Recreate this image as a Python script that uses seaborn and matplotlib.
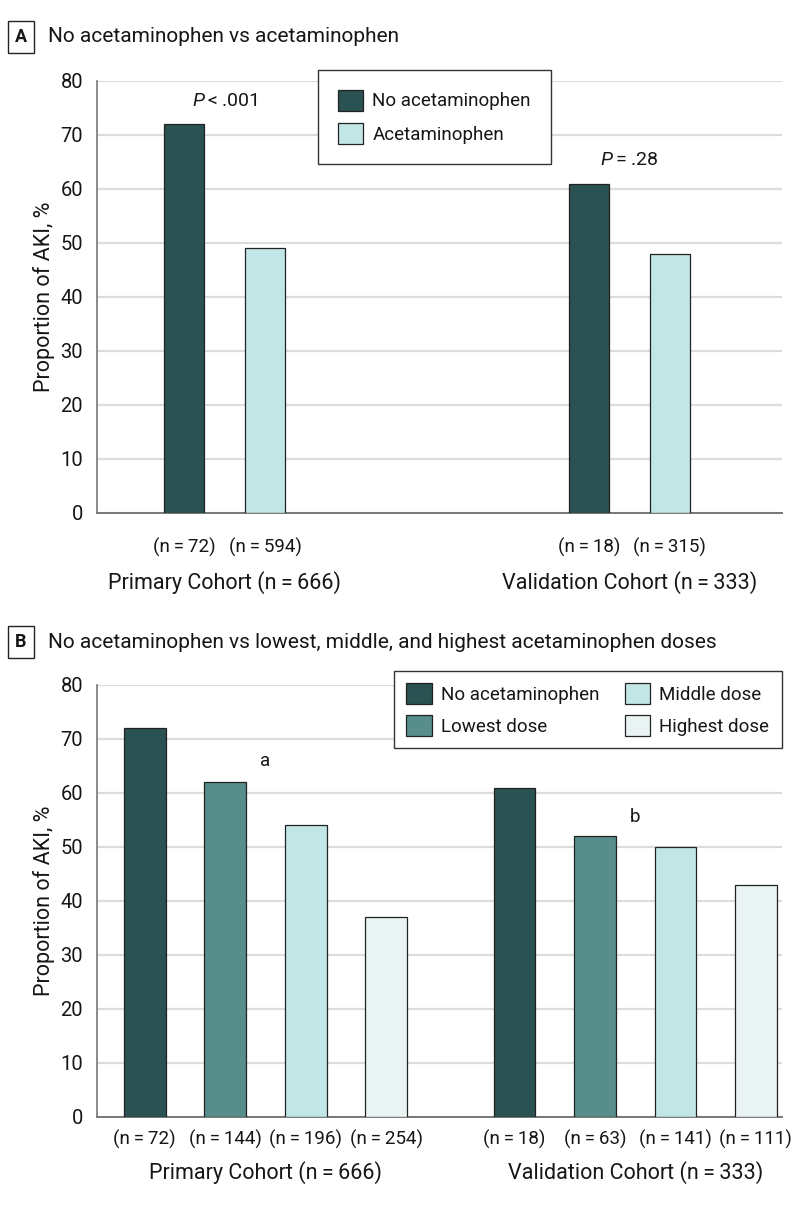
import matplotlib
matplotlib.use("Agg")
import matplotlib.pyplot as plt
from matplotlib.patches import Patch
import seaborn as sns
import pandas as pd

# ---- data ----
cohorts = ["Primary Cohort (n\u2009=\u2009666)", "Validation Cohort (n\u2009=\u2009333)"]

groups_a = ["No acetaminophen", "Acetaminophen"]
primary_a = [72, 49]
validation_a = [61, 48]
n_primary_a = ["72", "594"]
n_validation_a = ["18", "315"]
pvalues_a = ["$P$\u2009<\u2009.001", "$P$\u2009=\u2009.28"]
pvalue_heights_a = [76.3, 65.4]

groups_b = ["No acetaminophen", "Lowest dose", "Middle dose", "Highest dose"]
primary_b = [72, 62, 54, 37]
validation_b = [61, 52, 50, 43]
n_primary_b = ["72", "144", "196", "254"]
n_validation_b = ["18", "63", "141", "111"]
notes_b = ["a", "b"]
note_heights_b = [66, 55.6]

colors_a = ["#2a5253", "#c2e6e5"]
colors_b = ["#2a5253", "#578e8c", "#c2e6e5", "#e9f3f3"]

yticks = [0, 10, 20, 30, 40, 50, 60, 70, 80]

FONT = ["Roboto", "DejaVu Sans"]

sns.set_style("white")
plt.rcParams["font.family"] = FONT
plt.rcParams["mathtext.fontset"] = "custom"
plt.rcParams["mathtext.it"] = "Roboto:italic"
plt.rcParams["mathtext.rm"] = "Roboto"

TXT = "#161616"


def build_frame(groups, primary, validation):
    rows = []
    for g, v in zip(groups, primary):
        rows.append({"cohort": cohorts[0], "group": g, "value": v})
    for g, v in zip(groups, validation):
        rows.append({"cohort": cohorts[1], "group": g, "value": v})
    return pd.DataFrame(rows)


def draw_panel(ax, df, groups, colors, width, gap, n_labels, xlim,
               n_pad, cohort_offset):
    sns.barplot(data=df, x="cohort", y="value", hue="group", order=cohorts,
                hue_order=groups, palette=colors, width=width, gap=gap,
                saturation=1, edgecolor="#222222", linewidth=0.9,
                errorbar=None, legend=False, ax=ax, zorder=3)
    centers = sorted(p.get_x() + p.get_width() / 2 for p in ax.patches)
    ax.set_xlim(*xlim)
    ax.set_ylim(0, 80)
    ax.set_yticks(yticks)
    ax.tick_params(axis="y", labelsize=14.5, length=6, width=1.2,
                   color="#777777", pad=4, labelcolor=TXT)
    # n labels under each bar
    ax.set_xticks(centers)
    ax.set_xticklabels(["(n\u2009=\u2009%s)" % n for n in n_labels])
    ax.tick_params(axis="x", length=0, labelsize=13.5, pad=n_pad,
                   labelcolor=TXT)
    # cohort labels under each group
    for i, c in enumerate(cohorts):
        ax.annotate(c, xy=(i, 0), xycoords=("data", "axes fraction"),
                    xytext=(0, cohort_offset), textcoords="offset points",
                    ha="center", va="center", fontsize=15.5, color=TXT)
    ax.yaxis.grid(True, color="#dcdcdc", linewidth=1.6, zorder=0)
    ax.set_axisbelow(True)
    for s in ["top", "right"]:
        ax.spines[s].set_visible(False)
    ax.spines["left"].set_color("#777777")
    ax.spines["left"].set_linewidth(1.2)
    ax.spines["bottom"].set_color("#777777")
    ax.spines["bottom"].set_linewidth(1.4)
    ax.set_xlabel("")
    ax.set_ylabel("Proportion of AKI, %", fontsize=15.5, labelpad=4, color=TXT)


def panel_title(fig, y, letter, text):
    fig.text(21 / 794, y, letter, fontsize=13, fontweight="bold", ha="center",
             va="center", color=TXT,
             bbox=dict(boxstyle="square,pad=0.4", fc="white", ec="#222222",
                       lw=1.0))
    fig.text(48 / 794, y, text, fontsize=15, ha="left", va="center",
             color=TXT)


fig = plt.figure(figsize=(7.94, 12.07), dpi=100)
ax_a = fig.add_axes([97 / 794, 1 - 513 / 1207, 685 / 794, 432 / 1207])
ax_b = fig.add_axes([97 / 794, 1 - 1117 / 1207, 685 / 794, 432 / 1207])

df_a = build_frame(groups_a, primary_a, validation_a)
draw_panel(ax_a, df_a, groups_a, colors_a, 0.4, 0.5,
           n_primary_a + n_validation_a, (-0.315, 1.377), 18, -50)
for i, (txt, h) in enumerate(zip(pvalues_a, pvalue_heights_a)):
    ax_a.text(i, h, txt, ha="center", va="center", fontsize=14, color=TXT)

df_b = build_frame(groups_b, primary_b, validation_b)
draw_panel(ax_b, df_b, groups_b, colors_b, 0.87, 0.48,
           n_primary_b + n_validation_b, (-0.4555, 1.397), 9.5, -40)
for i, (txt, h) in enumerate(zip(notes_b, note_heights_b)):
    ax_b.text(i, h, txt, ha="center", va="center", fontsize=13.5, color=TXT)

handles_a = [Patch(facecolor=c, edgecolor="#222222", linewidth=0.9, label=g)
             for g, c in zip(groups_a, colors_a)]
leg_a = ax_a.legend(handles=handles_a, loc="upper left",
                    bbox_to_anchor=(0.3226, 1.0255), borderaxespad=0,
                    fontsize=13.5, handlelength=1.35, handleheight=1.35,
                    handletextpad=0.5, labelspacing=0.65, borderpad=1.05,
                    fancybox=False, framealpha=1, edgecolor="#333333",
                    labelcolor=TXT)
leg_a.get_frame().set_linewidth(1.0)

handles_b = [Patch(facecolor=c, edgecolor="#222222", linewidth=0.9, label=g)
             for g, c in zip(groups_b, colors_b)]
leg_b = ax_b.legend(handles=handles_b, loc="upper left", ncol=2,
                    bbox_to_anchor=(0.4336, 1.032), borderaxespad=0,
                    fontsize=13.5, handlelength=1.35, handleheight=1.35,
                    handletextpad=0.5, labelspacing=0.55, borderpad=0.65,
                    columnspacing=1.35, fancybox=False, framealpha=1,
                    edgecolor="#333333", labelcolor=TXT)
leg_b.get_frame().set_linewidth(1.0)

panel_title(fig, 1 - 37 / 1207, "A", "No acetaminophen vs acetaminophen")
panel_title(fig, 1 - 642 / 1207, "B",
            "No acetaminophen vs lowest, middle, and highest acetaminophen doses")

fig.savefig("out.png", dpi=100, facecolor="white")
